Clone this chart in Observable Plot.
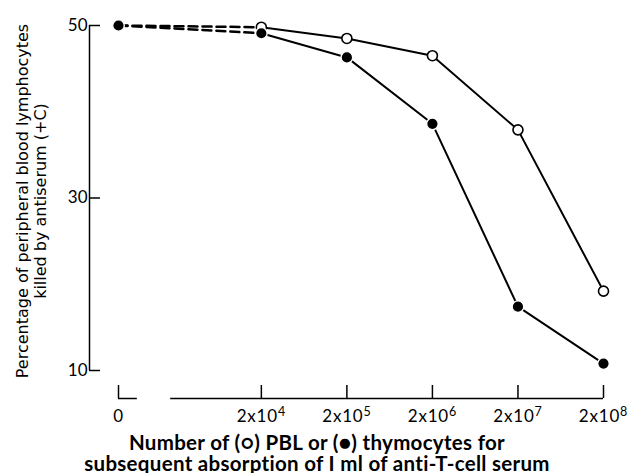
<!DOCTYPE html>
<html>
<head>
<meta charset="utf-8">
<script src="https://cdn.jsdelivr.net/npm/d3@7"></script>
<script src="https://cdn.jsdelivr.net/npm/@observablehq/plot@0.6"></script>
<style>
  html, body { margin: 0; padding: 0; background: #fff; }
  .xtick text { letter-spacing: 0.8px; }
  .xtitle text { letter-spacing: 0.3px; }
</style>
</head>
<body>
<div id="chart"></div>
<script>
// ---- data ----
const doses = [0, 2e4, 2e5, 2e6, 2e7, 2e8];
const xTickLabels = ["0", "2x10^4", "2x10^5", "2x10^6", "2x10^7", "2x10^8"];
const pblKilled = [50, 49.8, 48.5, 46.5, 37.9, 19.2];      // open circles
const thymKilled = [50, 49.1, 46.3, 38.6, 17.4, 10.8];     // filled circles
const yTicks = [10, 30, 50];
const yTitle = "Percentage of peripheral blood lymphocytes\nkilled by antiserum (+C)";
const xTitle = "Number of (\u25CB) PBL or (\u25CF) thymocytes for\nsubsequent absorption of I ml of anti-T-cell serum";

// ---- broken axis: "0" sits to the left of the log-spaced doses ----
const ZERO_POS = 2.33;
const xPos = d => d === 0 ? ZERO_POS : Math.log10(d / 2);

const rows = s => doses.map((d, i) => ({dose: d, x: xPos(d), y: s[i], i}));
const pbl = rows(pblKilled);
const thym = rows(thymKilled);

const W = 627, H = 473;
const chart = Plot.plot({
  width: W,
  height: H,
  marginLeft: 118,
  marginRight: 24,
  marginTop: 25,
  marginBottom: 103,
  x: {type: "linear", domain: [ZERO_POS, 8], axis: null},
  y: {domain: [10, 50], axis: null},
  style: {background: "#fff", color: "#000"},
  marks: [
    // y axis line + inward ticks
    Plot.ruleX([ZERO_POS], {y1: 10, y2: 50, dx: -29, stroke: "#000", strokeWidth: 1.5}),
    Plot.ruleY(yTicks, {y: d => d, x1: ZERO_POS, x2: ZERO_POS, dx: -29, insetRight: -11, stroke: "#000", strokeWidth: 1.5}),
    Plot.text(yTicks, {x: ZERO_POS, y: d => d, text: d => String(d), dx: -31, textAnchor: "end", fontSize: 17, fontFamily: "Lato", fill: "#000"}),

    // x axis: short fragment at 0, gap, then main baseline
    Plot.ruleY([10], {x1: ZERO_POS, x2: ZERO_POS + 0.22, dy: 28, stroke: "#000", strokeWidth: 1.5}),
    Plot.ruleY([10], {x1: ZERO_POS + 0.61, x2: 8, dy: 28, stroke: "#000", strokeWidth: 1.5}),
    Plot.ruleX(doses, {x: xPos, y1: 10, y2: 10, insetTop: 15, insetBottom: -28, stroke: "#000", strokeWidth: 1.5}),
    Plot.text(doses, {x: xPos, y: 10, text: (d, i) => xTickLabels[i], dy: 46, fontSize: 17, fontFamily: "Lato", fill: "#000", className: "xtick"}),

    // axis titles
    Plot.text([xTitle], {frameAnchor: "bottom", dx: -44, dy: 100, fontSize: 20.5, fontWeight: "bold", fontFamily: "Lato", lineHeight: 0.98, fill: "#000", className: "xtitle"}),
    Plot.text([yTitle], {frameAnchor: "left", textAnchor: "middle", lineAnchor: "middle", dx: -87, dy: 3, rotate: -90, fontSize: 16, fontFamily: "DejaVu Sans", lineHeight: 1.13, fill: "#000"}),

    // dashed part across the axis break
    Plot.line(pbl.slice(0, 2), {x: "x", y: "y", stroke: "#000", strokeWidth: 2.5, strokeDasharray: "9,5"}),
    Plot.line(thym.slice(0, 2), {x: "x", y: "y", stroke: "#000", strokeWidth: 2.5, strokeDasharray: "9,5"}),
    // solid curves
    Plot.line(pbl.slice(1), {x: "x", y: "y", stroke: "#000", strokeWidth: 2}),
    Plot.line(thym.slice(1), {x: "x", y: "y", stroke: "#000", strokeWidth: 2}),

    // points
    Plot.dot(pbl, {x: "x", y: "y", r: 5, fill: "#fff", stroke: "#000", strokeWidth: 1.6}),
    Plot.dot(thym, {x: "x", y: "y", r: 5.8, fill: "#000", stroke: "#fff", strokeWidth: 1.4})
  ]
});

// render exponents of the tick labels as superscripts (still real text)
d3.select(chart).selectAll("g.xtick text").each(function () {
  const t = d3.select(this);
  const parts = this.textContent.split("^");
  if (parts.length === 2) {
    t.text(parts[0]);
    t.append("tspan").attr("dy", "-0.45em").attr("font-size", "12.5px").text(parts[1]);
  }
});

document.getElementById("chart").appendChild(chart);
</script>
</body>
</html>
